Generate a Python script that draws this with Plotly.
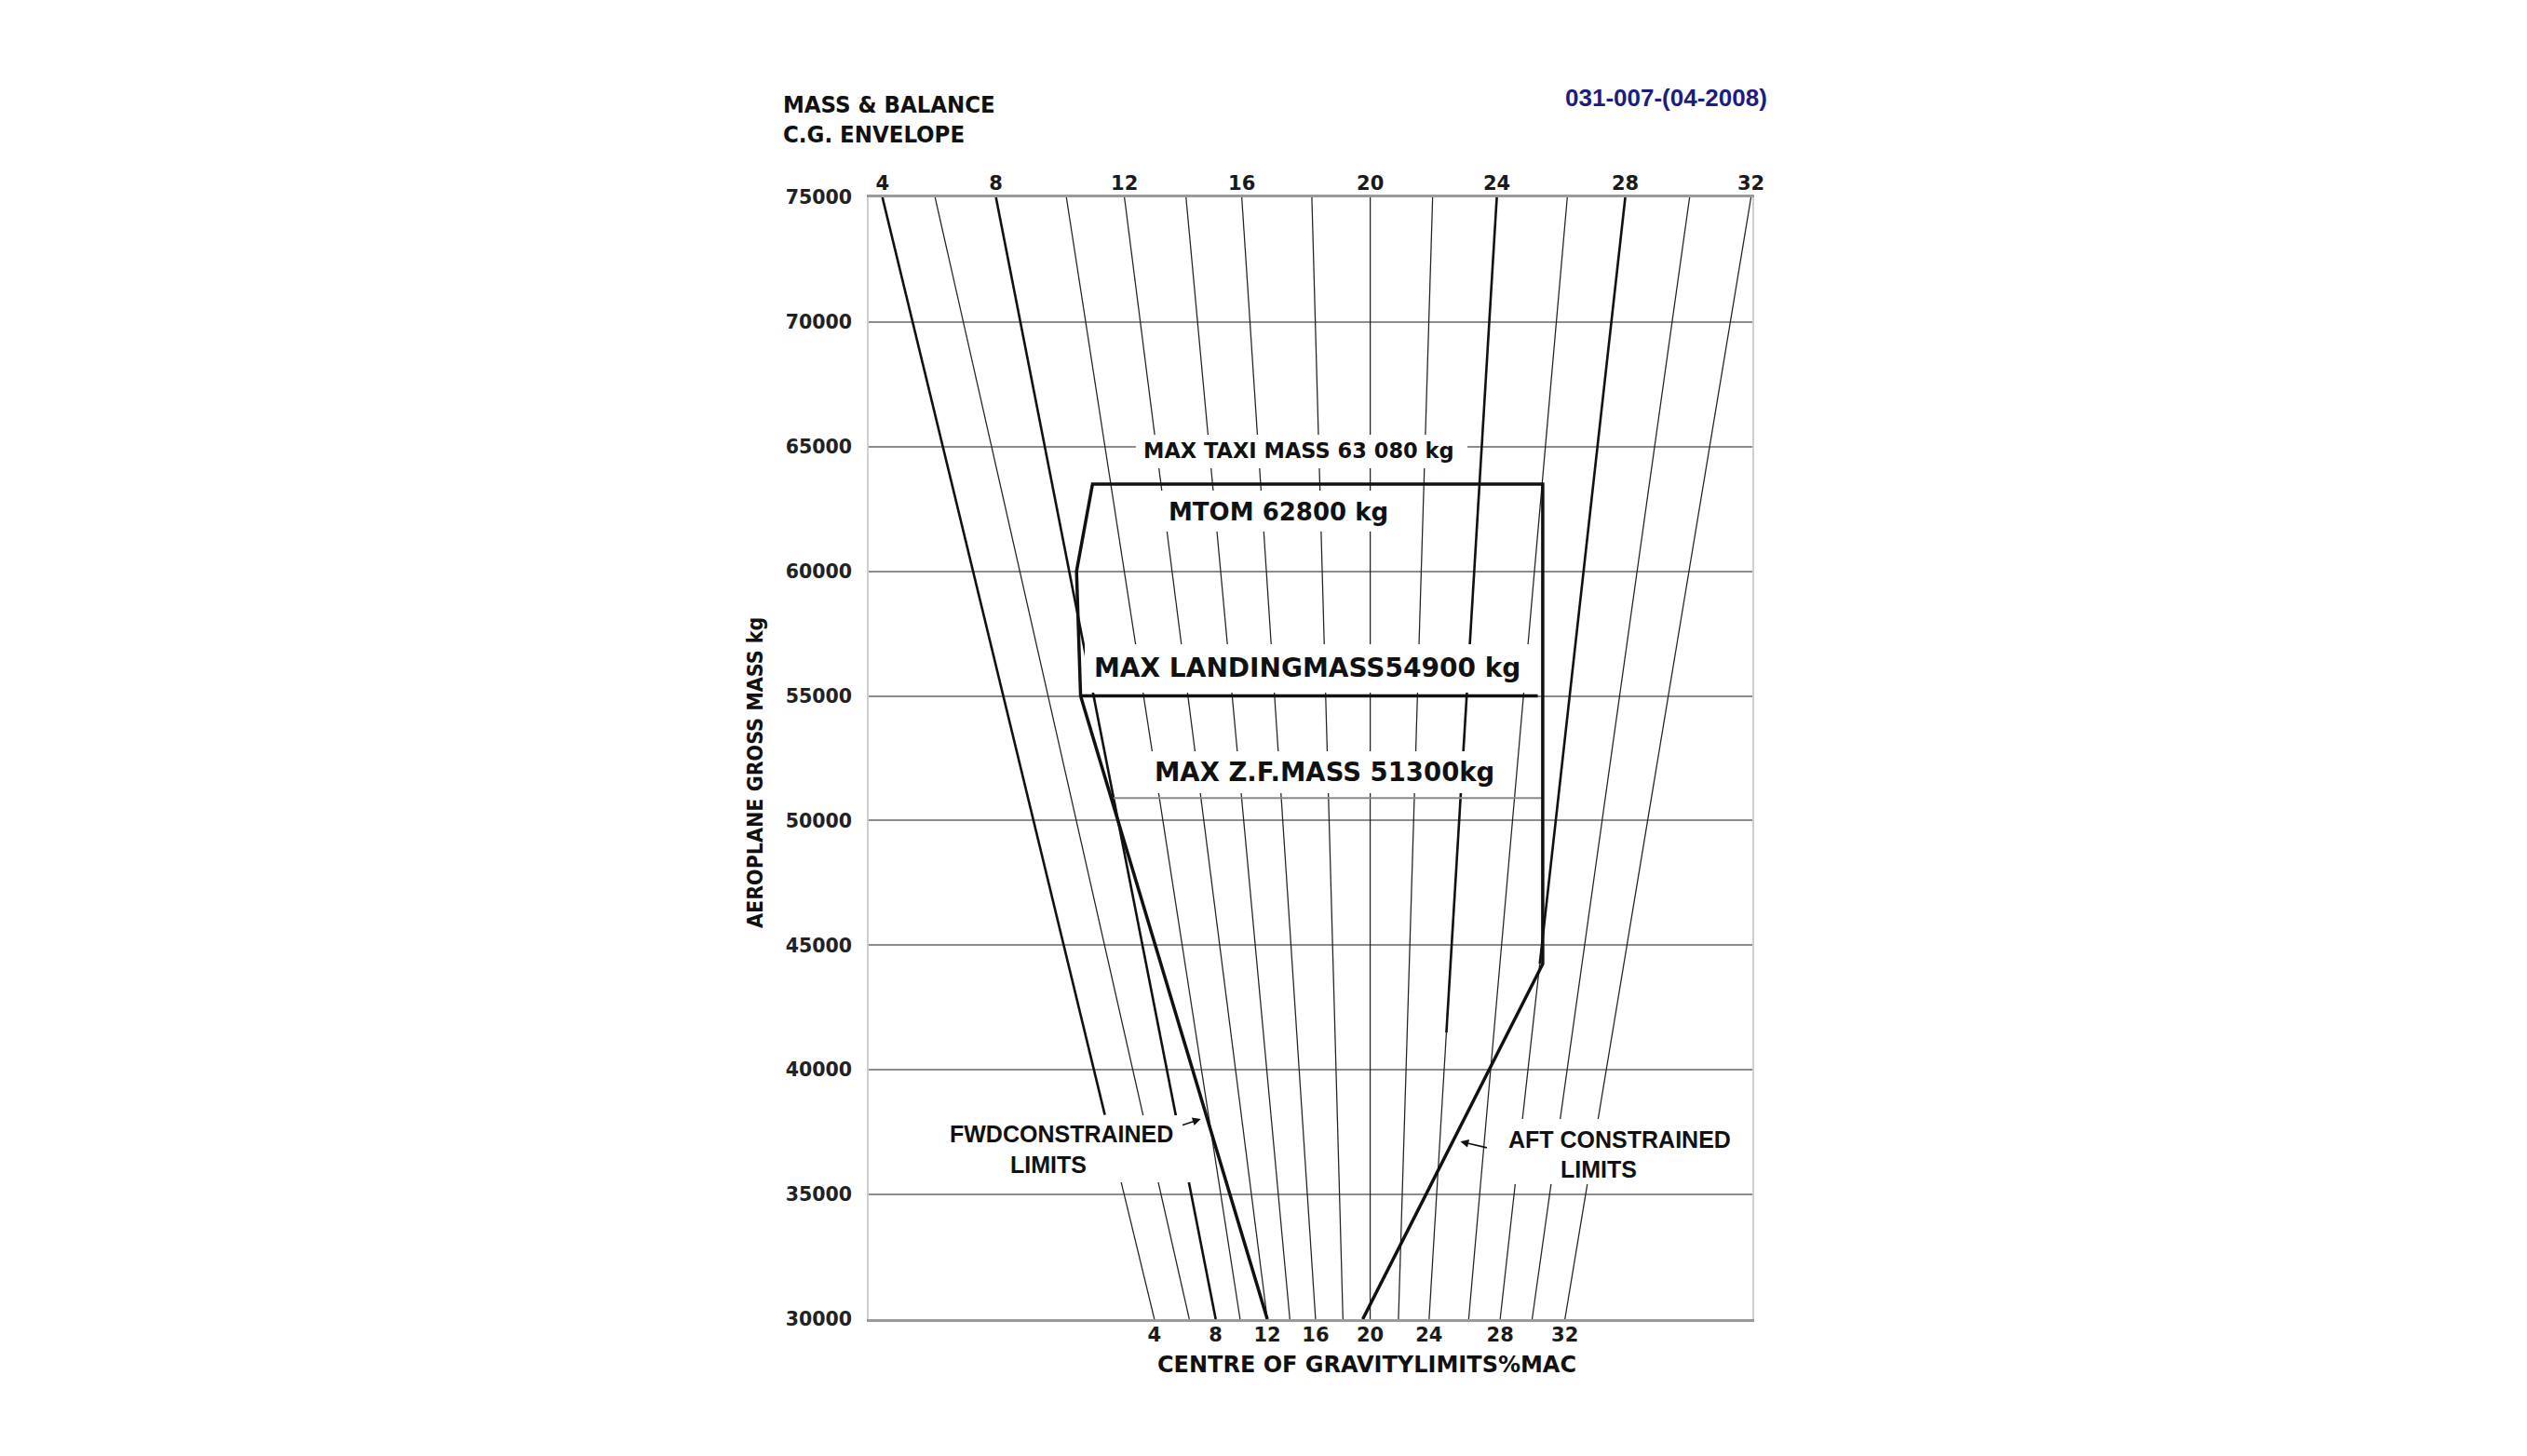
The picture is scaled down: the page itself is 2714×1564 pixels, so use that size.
import plotly.graph_objects as go

# ------------------------------------------------------------------
# Data
# ------------------------------------------------------------------
# %MAC lines of the fan (every 2 %)
cg_pct = [4, 6, 8, 10, 12, 14, 16, 18, 20, 22, 24, 26, 28, 30, 32]
# where each %MAC line meets the 75000 kg and the 30000 kg mass lines,
# on the chart's horizontal index scale (0 = left border, 100 = right border)
pos_at_75000 = [1.55, 7.51, 14.40, 22.37, 28.94, 35.91, 42.22, 50.15,
                56.76, 63.82, 71.08, 79.06, 85.62, 92.90, 99.85]
pos_at_30000 = [32.33, 36.28, 39.27, 42.03, 45.11, 47.66, 50.57, 53.67,
                56.75, 59.95, 63.42, 67.90, 71.46, 75.08, 78.79]
# a few %MAC lines are printed heavy from the top down to this mass (None = thin)
heavy_down_to = [38200, None, 30000, None, None, None, None, None,
                 None, None, 41500, None, 44250, None, None]

# scale labels (every second %MAC line)
scale_pct = [4, 8, 12, 16, 20, 24, 28, 32]

# mass axis
mass_ticks = [30000, 35000, 40000, 45000, 50000, 55000, 60000, 65000, 70000, 75000]

# C.G. envelope outline (index position, mass kg)
envelope_pos = [45.11, 23.98, 23.52, 25.33, 76.28, 76.28, 55.91]
envelope_mass = [30000, 55000, 60000, 63500, 63500, 44250, 30000]
# max landing mass line
mlm_pos = [23.98, 75.72]
mlm_mass = [55000, 55000]
# max zero fuel mass line
zfm_pos = [27.70, 76.28]
zfm_mass = [50900, 50900]

# ------------------------------------------------------------------
W, H = 2714, 1564
ML, MR, MT, MB = 933, 832, 212, 147
PW, PH = W - ML - MR, H - MT - MB
M_TOP, M_BOT = mass_ticks[-1], mass_ticks[0]


def fx(xp):
    return (xp - ML) / PW


def fy(yp):
    return (H - MB - yp) / PH


def pos_at(i, mass):
    t = (M_TOP - mass) / (M_TOP - M_BOT)
    return pos_at_75000[i] + t * (pos_at_30000[i] - pos_at_75000[i])


thin_x, thin_y, heavy_x, heavy_y = [], [], [], []
for i, c in enumerate(cg_pct):
    h = heavy_down_to[i]
    if h is None:
        thin_x += [pos_at(i, M_TOP), pos_at(i, M_BOT), None]
        thin_y += [M_TOP, M_BOT, None]
    else:
        heavy_x += [pos_at(i, M_TOP), pos_at(i, h), None]
        heavy_y += [M_TOP, h, None]
        if h > M_BOT:
            thin_x += [pos_at(i, h), pos_at(i, M_BOT), None]
            thin_y += [h, M_BOT, None]

fig = go.Figure()
fig.add_trace(go.Scatter(x=thin_x, y=thin_y, mode="lines",
                         line=dict(color="#222222", width=1.25),
                         hoverinfo="skip", showlegend=False))
fig.add_trace(go.Scatter(x=heavy_x, y=heavy_y, mode="lines",
                         line=dict(color="#111111", width=2.6),
                         hoverinfo="skip", showlegend=False))
fig.add_trace(go.Scatter(x=zfm_pos, y=zfm_mass, mode="lines",
                         line=dict(color="#8a8a8a", width=2),
                         hoverinfo="skip", showlegend=False))
fig.add_trace(go.Scatter(x=mlm_pos, y=mlm_mass, mode="lines",
                         line=dict(color="#111111", width=3.5),
                         hoverinfo="skip", showlegend=False))
fig.add_trace(go.Scatter(x=envelope_pos, y=envelope_mass, mode="lines",
                         line=dict(color="#111111", width=3.5),
                         hoverinfo="skip", showlegend=False))
# invisible trace so that the top scale axis is drawn
fig.add_trace(go.Scatter(x=[pos_at_75000[0]], y=[M_TOP], xaxis="x2",
                         mode="markers", marker=dict(opacity=0),
                         hoverinfo="skip", showlegend=False))

tick_font = dict(family="DejaVu Sans", size=21, color="#1a1a1a", weight="bold")
bottom_vals = [pos_at_30000[cg_pct.index(c)] for c in scale_pct]
top_vals = [pos_at_75000[cg_pct.index(c)] for c in scale_pct]

fig.update_layout(
    width=W, height=H,
    margin=dict(l=ML, r=MR, t=MT, b=MB, pad=0),
    paper_bgcolor="white", plot_bgcolor="white",
    showlegend=False,
    xaxis=dict(range=[0, 100], tickvals=bottom_vals,
               ticktext=[str(c) for c in scale_pct],
               showgrid=False, zeroline=False, ticks="",
               showline=True, linecolor="#9a9a9a", linewidth=3, mirror=True,
               tickfont=tick_font, ticklabelstandoff=-4),
    xaxis2=dict(range=[0, 100], overlaying="x", side="top", tickvals=top_vals,
                ticktext=[str(c) for c in scale_pct],
                showgrid=False, zeroline=False, ticks="", showline=False,
                tickfont=tick_font, ticklabelstandoff=3),
    yaxis=dict(range=[M_BOT, M_TOP], tickvals=mass_ticks,
               ticktext=[str(m) for m in mass_ticks],
               showgrid=True, gridcolor="#8c8c8c", gridwidth=1.5,
               zeroline=False, ticks="",
               showline=True, linecolor="#cfcfcf", linewidth=1.5, mirror=True,
               tickfont=dict(family="DejaVu Sans", size=20.5, color="#222222",
                             weight="bold"),
               ticklabelstandoff=12),
)


def white_box(x0, x1, y0, y1):
    fig.add_shape(type="rect", xref="paper", yref="paper",
                  x0=fx(x0), x1=fx(x1), y0=fy(y1), y1=fy(y0),
                  fillcolor="white", line=dict(width=0), layer="above")


def label(text, xp, yp, size, family="DejaVu Sans", color="#111111",
          xanchor="center", angle=0):
    fig.add_annotation(text=text, xref="paper", yref="paper",
                       x=fx(xp), y=fy(yp), xanchor=xanchor, yanchor="middle",
                       showarrow=False, textangle=angle,
                       font=dict(family=family, size=size, color=color,
                                 weight="bold"))


NARROW = "Liberation Sans Narrow, DejaVu Sans Condensed, Arial Narrow, sans-serif"
ARIAL = "Liberation Sans, Arial, sans-serif"

# white knock-out boxes behind the in-chart labels
white_box(1220, 1576, 467, 503)     # max taxi mass
white_box(1240, 1505, 527, 571)     # MTOM
white_box(1165, 1650, 692, 744)     # max landing mass
white_box(1222, 1618, 807, 852)     # max zero fuel mass
white_box(1012, 1278, 1198, 1270)   # fwd constrained
white_box(1622, 1878, 1202, 1272)   # aft constrained

# titles
label("MASS & BALANCE", 839, 112, 25.5, family=NARROW, xanchor="left")
label("C.G. ENVELOPE", 839, 144, 25.5, family=NARROW, xanchor="left")
label("031-007-(04-2008)", 1789, 105, 26, family=ARIAL, color="#1c1c84")
label("AEROPLANE GROSS MASS kg", 811, 830, 23, family=NARROW, angle=-90)
label("CENTRE OF GRAVITYLIMITS%MAC", 1468, 1466, 24)

# in-chart labels
label("MAX TAXI MASS 63 080 kg", 1395, 484, 22.5)
label("MTOM 62800 kg", 1373, 550, 26)
label("MAX LANDINGMASS54900 kg", 1404, 717, 28)
label("MAX Z.F.MASS 51300kg", 1422, 829, 27.5)
label("FWDCONSTRAINED", 1140, 1218, 25, family=ARIAL)
label("LIMITS", 1126, 1251, 25, family=ARIAL)
label("AFT CONSTRAINED", 1739, 1224, 25, family=ARIAL)
label("LIMITS", 1717, 1256, 25, family=ARIAL)

# pointer arrows
fig.add_annotation(x=37.58, y=38030, xref="x", yref="y", text="",
                   showarrow=True, arrowhead=2, arrowsize=1.1, arrowwidth=1.6,
                   arrowcolor="#111111", ax=-21, ay=7, standoff=0)
fig.add_annotation(x=66.96, y=37125, xref="x", yref="y", text="",
                   showarrow=True, arrowhead=2, arrowsize=1.1, arrowwidth=1.6,
                   arrowcolor="#111111", ax=30, ay=7, standoff=0)

fig.write_html("out.html")
